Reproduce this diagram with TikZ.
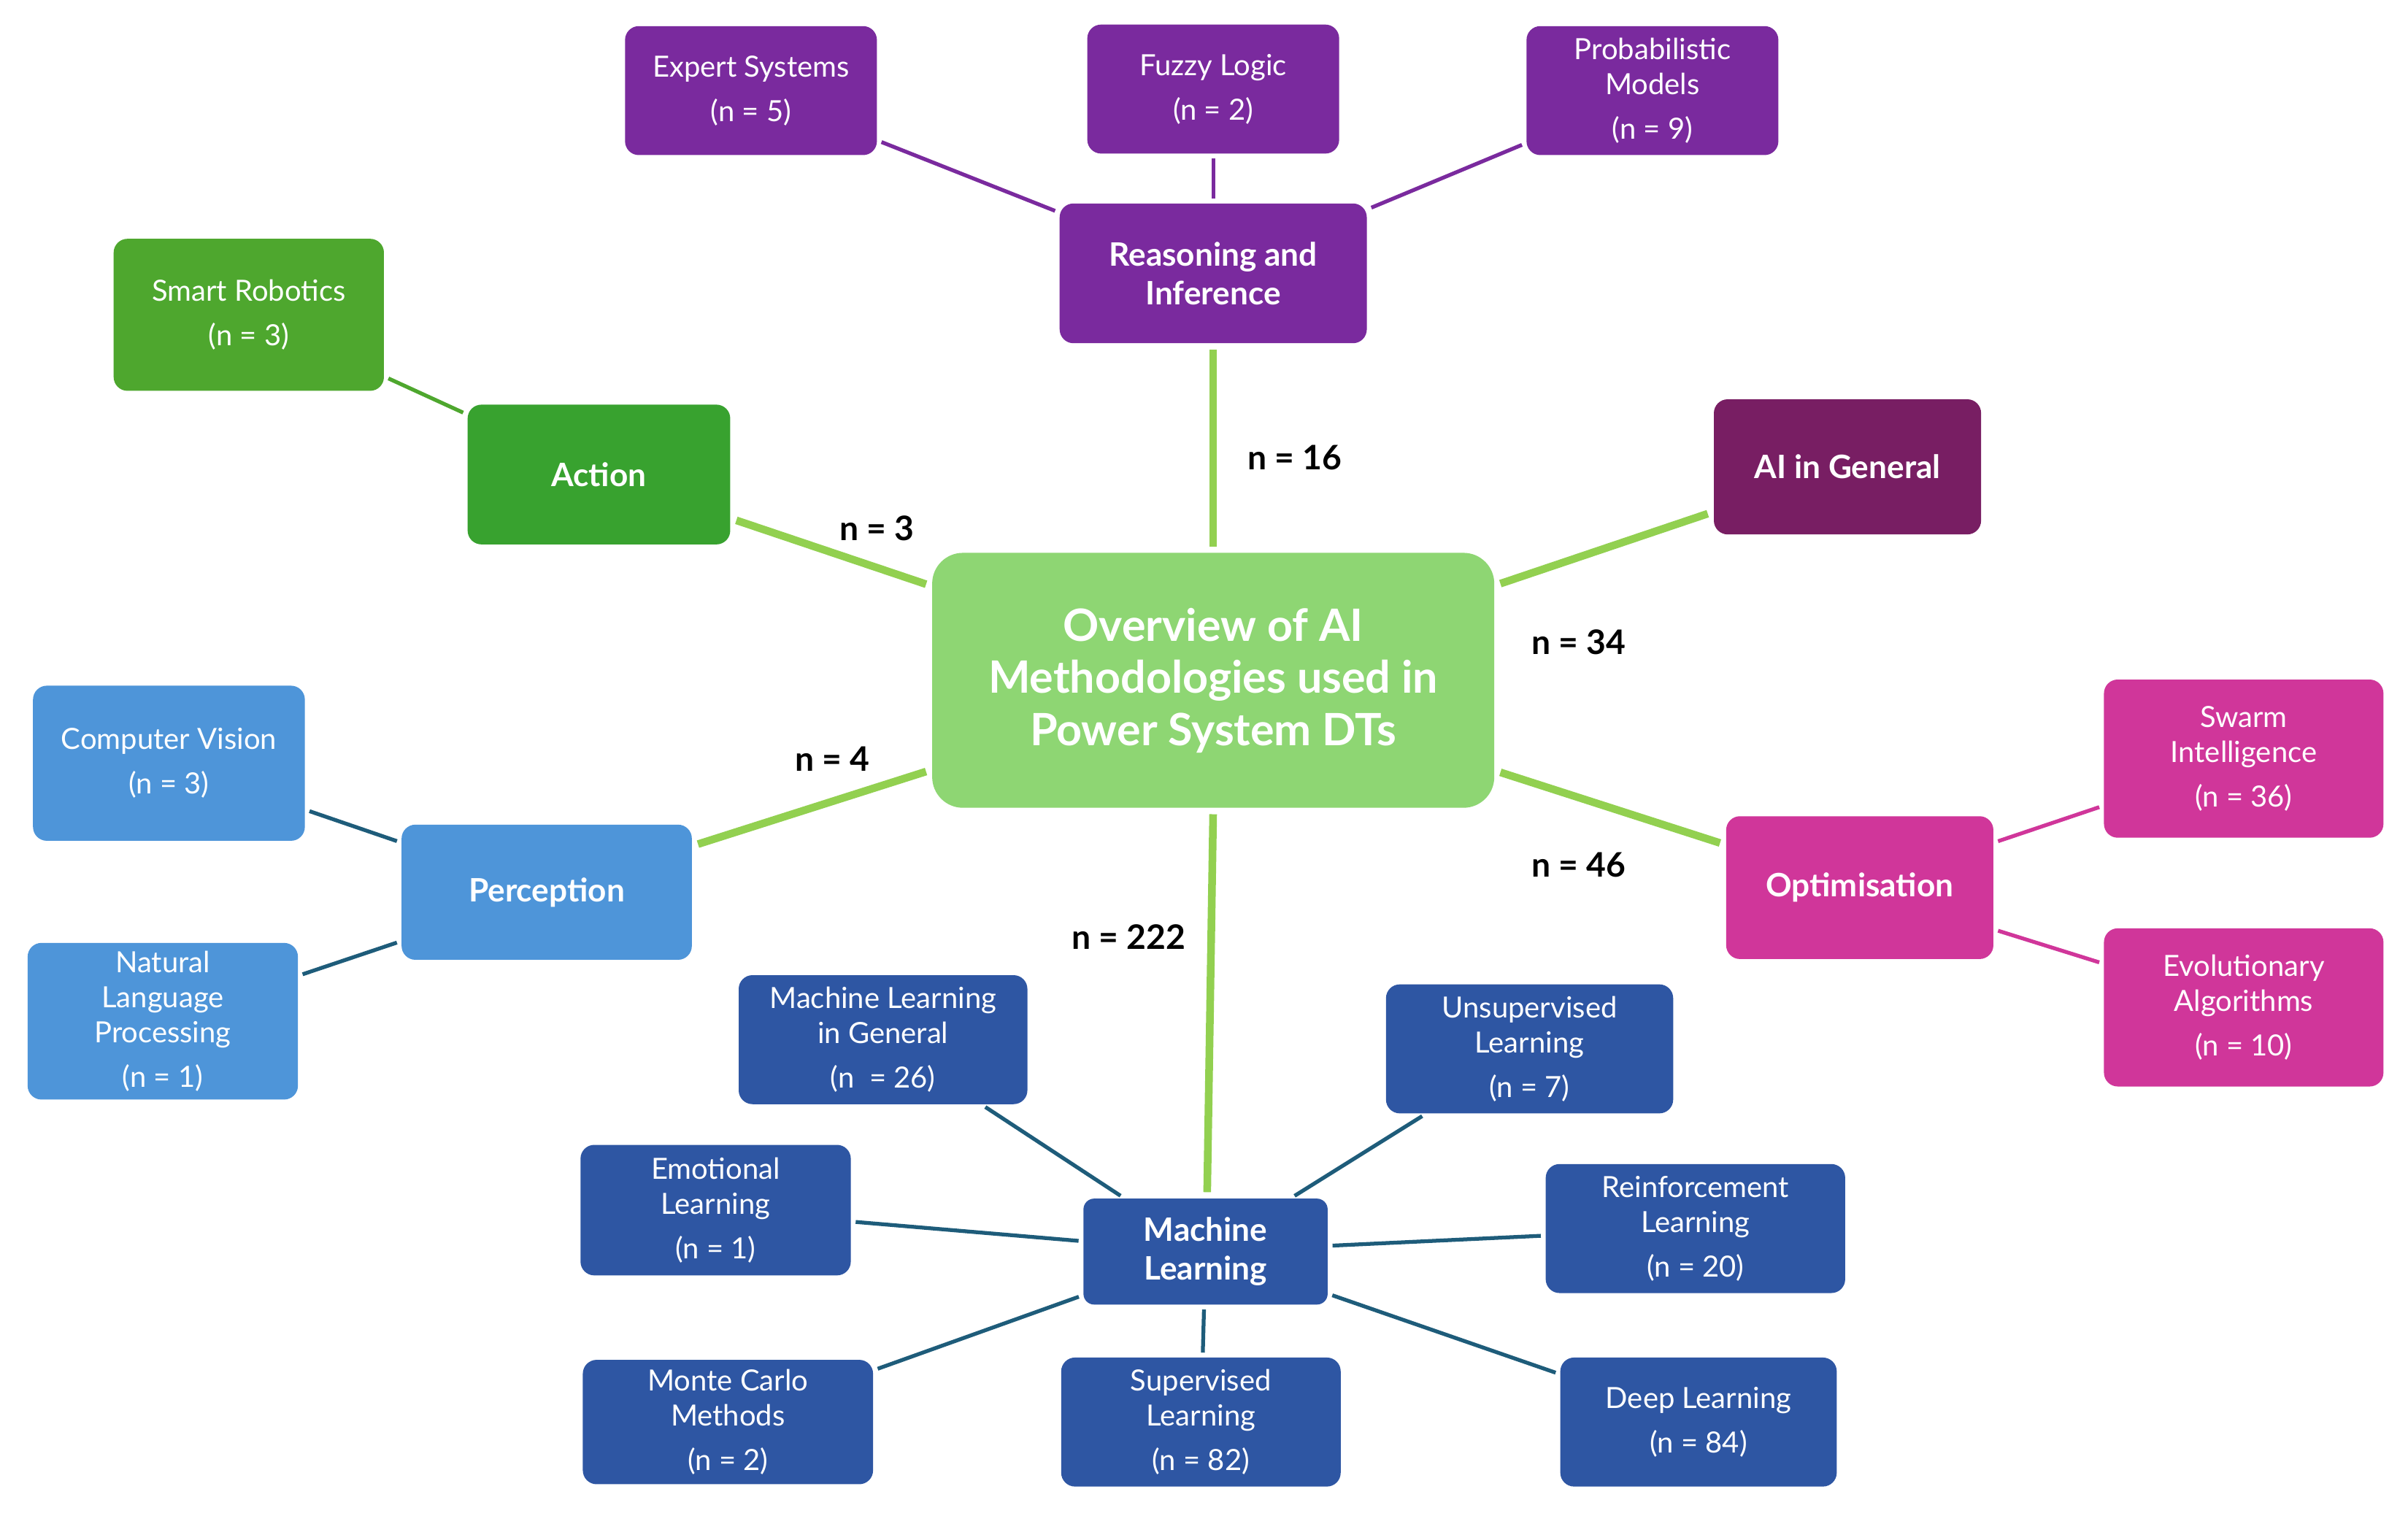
\documentclass[tikz,border=0pt]{standalone}
\usepackage{fontspec}
\setmainfont{Lato}
\begin{document}
\begin{tikzpicture}[x=1pt,y=-1pt,
 box/.style={rounded corners=9pt,text=white,align=center,inner sep=2pt,font=\fontsize{19}{23}\selectfont},
 head/.style={box,font=\fontsize{21}{25}\selectfont\bfseries},
 main/.style={draw=green!55!black!10!lime!60!olive!40!green,line width=5pt,color={rgb,255:red,146;green,208;blue,80},shorten <=4pt,shorten >=4pt},
 sub/.style={line width=2.5pt,shorten <=3pt,shorten >=3pt},
 lab/.style={font=\fontsize{22}{26}\selectfont\bfseries}]
\definecolor{purp}{RGB}{122,42,158}
\definecolor{aig}{RGB}{120,30,99}
\definecolor{actg}{RGB}{56,162,47}
\definecolor{robg}{RGB}{78,167,46}
\definecolor{perc}{RGB}{78,149,217}
\definecolor{pink}{RGB}{208,54,154}
\definecolor{mlb}{RGB}{46,86,163}
\definecolor{mlline}{RGB}{30,92,122}
\definecolor{cen}{RGB}{142,214,115}
\useasboundingbox (0,0) rectangle (1568,987);
\fill[white] (0,0) rectangle (1568,987);
% nodes
\node[box,fill=purp,minimum width=164pt,minimum height=84pt] (es) at (489,59) {Expert Systems\\[6pt](n = 5)};
\node[box,fill=purp,minimum width=164pt,minimum height=84pt] (fl) at (790,58) {Fuzzy Logic\\[6pt](n = 2)};
\node[box,fill=purp,minimum width=164pt,minimum height=84pt] (pm) at (1076,59) {Probabilistic\\Models\\[6pt](n = 9)};
\node[head,fill=purp,minimum width=200pt,minimum height=91pt] (ri) at (790,178) {Reasoning and\\Inference};
\node[box,fill=robg,minimum width=176pt,minimum height=99pt] (sr) at (162,205) {Smart Robotics\\[6pt](n = 3)};
\node[head,fill=actg,minimum width=171pt,minimum height=91pt] (ac) at (390,309) {Action};
\node[head,fill=aig,minimum width=174pt,minimum height=88pt] (ai) at (1203,304) {AI in General};
\node[rounded corners=20pt,fill=cen,text=white,align=center,minimum width=366pt,minimum height=166pt,font=\fontsize{29}{34}\selectfont\bfseries] (c) at (790,443) {Overview of AI\\Methodologies used in\\Power System DTs};
\node[box,fill=perc,minimum width=177pt,minimum height=101pt] (cv) at (110,497) {Computer Vision\\[6pt](n = 3)};
\node[head,fill=perc,minimum width=189pt,minimum height=88pt] (pe) at (356,581) {Perception};
\node[box,fill=perc,minimum width=176pt,minimum height=102pt] (nlp) at (106,665) {Natural\\Language\\Processing\\[6pt](n = 1)};
\node[box,fill=pink,minimum width=182pt,minimum height=103pt] (sw) at (1461,494) {Swarm\\Intelligence\\[6pt](n = 36)};
\node[head,fill=pink,minimum width=174pt,minimum height=93pt] (op) at (1211,578) {Optimisation};
\node[box,fill=pink,minimum width=182pt,minimum height=103pt] (ea) at (1461,656) {Evolutionary\\Algorithms\\[6pt](n = 10)};
\node[box,fill=mlb,minimum width=188pt,minimum height=84pt] (mlg) at (575,677) {Machine Learning\\in General\\[6pt](n\ \ = 26)};
\node[box,fill=mlb,minimum width=187pt,minimum height=84pt] (ul) at (996,683) {Unsupervised\\Learning\\[6pt](n = 7)};
\node[box,fill=mlb,minimum width=176pt,minimum height=85pt] (el) at (466,788) {Emotional\\Learning\\[6pt](n = 1)};
\node[head,fill=mlb,minimum width=159pt,minimum height=69pt,rounded corners=7pt] (ml) at (785,815) {Machine\\Learning};
\node[box,fill=mlb,minimum width=195pt,minimum height=84pt] (rl) at (1104,800) {Reinforcement\\Learning\\[6pt](n = 20)};
\node[box,fill=mlb,minimum width=189pt,minimum height=81pt] (mc) at (474,926) {Monte Carlo\\Methods\\[6pt](n = 2)};
\node[box,fill=mlb,minimum width=182pt,minimum height=84pt] (sl) at (782,926) {Supervised\\Learning\\[6pt](n = 82)};
\node[box,fill=mlb,minimum width=180pt,minimum height=84pt] (dl) at (1106,926) {Deep Learning\\[6pt](n = 84)};
% main connectors
\draw[main] (c) -- (ri);
\draw[main] (c) -- (ac);
\draw[main] (c) -- (ai);
\draw[main] (c) -- (pe);
\draw[main] (c) -- (op);
\draw[main] (c.south -| 790,0) -- (ml.north -| 786,0);
% sub connectors
\draw[sub,draw=purp] (ri) -- (es);
\draw[sub,draw=purp] (ri) -- (fl);
\draw[sub,draw=purp] (ri) -- (pm);
\draw[sub,draw=robg] (ac) -- (sr);
\draw[sub,draw=mlline] (pe) -- (cv);
\draw[sub,draw=mlline] (pe) -- (nlp);
\draw[sub,draw=pink] (op) -- (sw);
\draw[sub,draw=pink] (op) -- (ea);
\draw[sub,draw=mlline] (ml) -- (mlg);
\draw[sub,draw=mlline] (ml) -- (ul);
\draw[sub,draw=mlline] (ml) -- (el);
\draw[sub,draw=mlline] (ml) -- (rl);
\draw[sub,draw=mlline] (ml) -- (mc);
\draw[sub,draw=mlline] (ml) -- (sl);
\draw[sub,draw=mlline] (ml) -- (dl);
% labels
\node[lab] (l16) at (843,298) {n = 16};
\node[lab] (l3) at (571,344) {n = 3};
\node[lab] (l34) at (1028,418) {n = 34};
\node[lab] (l4) at (542,494) {n = 4};
\node[lab] (l46) at (1028,563) {n = 46};
\node[lab] (l222) at (735,610) {n = 222};
\end{tikzpicture}
\end{document}
